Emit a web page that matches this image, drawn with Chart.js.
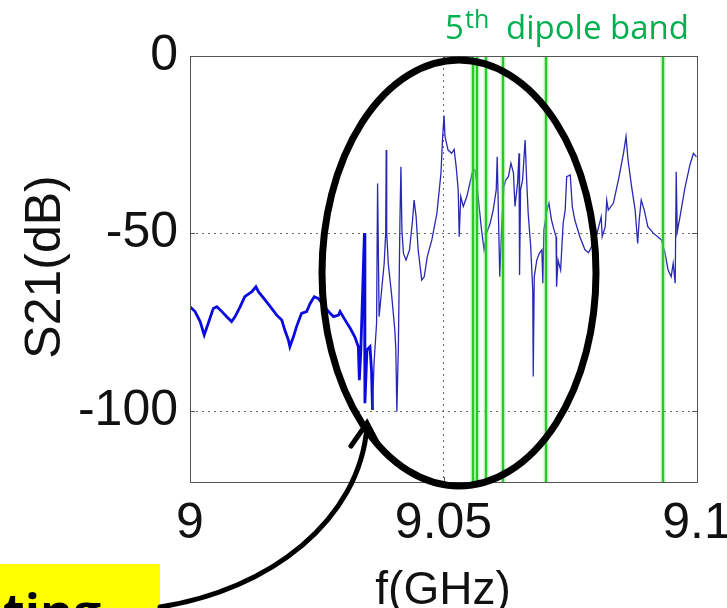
<!DOCTYPE html>
<html>
<head>
<meta charset="utf-8">
<script src="https://cdn.jsdelivr.net/npm/chart.js@4.4.1/dist/chart.umd.min.js"></script>
<style>
  html, body { margin: 0; padding: 0; background: #fff; }
</style>
</head>
<body>
<canvas id="myChart" width="727" height="608"></canvas>
<script>
// S21 trace (frequency in GHz, level in dB)
const freqGHz = [
  9.0000, 9.0010, 9.0020, 9.0028, 9.0036, 9.0046, 9.0053, 9.0063, 9.0072, 9.0082,
  9.0089, 9.0099, 9.0108, 9.0122, 9.0130, 9.0135, 9.0148, 9.0161, 9.0171, 9.0181,
  9.0187, 9.0194, 9.0197, 9.0204, 9.0210, 9.0220, 9.0230, 9.0237, 9.0245, 9.0253,
  9.0263, 9.0273, 9.0283, 9.0293, 9.0296, 9.0306, 9.0316, 9.0325, 9.0332, 9.0334,
  9.0337, 9.0344, 9.0345, 9.0349, 9.0355, 9.0358, 9.0360, 9.0363, 9.0368, 9.0370,
  9.0373, 9.0378, 9.0383, 9.0386, 9.0387, 9.0388, 9.0391, 9.0398, 9.0404, 9.0406,
  9.0408, 9.0411, 9.0414, 9.0416, 9.0418, 9.0421, 9.0426, 9.0433, 9.0439, 9.0442,
  9.0446, 9.0450, 9.0457, 9.0462, 9.0468, 9.0477, 9.0487, 9.0495, 9.0498, 9.0501,
  9.0503, 9.0509, 9.0516, 9.0521, 9.0525, 9.0529, 9.0531, 9.0534, 9.0539, 9.0546,
  9.0552, 9.0558, 9.0562, 9.0565, 9.0571, 9.0575, 9.0580, 9.0585, 9.0592, 9.0598,
  9.0604, 9.0606, 9.0609, 9.0611, 9.0615, 9.0619, 9.0623, 9.0628, 9.0633, 9.0638,
  9.0641, 9.0646, 9.0649, 9.0650, 9.0652, 9.0656, 9.0661, 9.0664, 9.0667, 9.0672,
  9.0676, 9.0677, 9.0679, 9.0684, 9.0689, 9.0694, 9.0696, 9.0698, 9.0704, 9.0708,
  9.0713, 9.0718, 9.0722, 9.0723, 9.0726, 9.0731, 9.0736, 9.0740, 9.0743, 9.0750,
  9.0754, 9.0759, 9.0769, 9.0779, 9.0786, 9.0795, 9.0802, 9.0811, 9.0813, 9.0819,
  9.0822, 9.0825, 9.0835, 9.0845, 9.0855, 9.0860, 9.0864, 9.0871, 9.0878, 9.0883,
  9.0886, 9.0890, 9.0896, 9.0903, 9.0914, 9.0930, 9.0937, 9.0943, 9.0949, 9.0953,
  9.0957, 9.0959, 9.0961, 9.0966, 9.0976, 9.0986, 9.0993, 9.0999
];
const s21dB = [
  -70.6, -72.0, -74.8, -78.6, -75.3, -71.1, -70.6, -72.0, -73.4, -74.8,
  -73.4, -70.6, -67.8, -66.4, -65.0, -66.4, -68.7, -71.1, -73.0, -74.4,
  -77.2, -80.0, -81.9, -79.1, -76.3, -72.5, -72.0, -69.7, -67.8, -68.3,
  -70.1, -72.0, -73.4, -73.0, -72.0, -74.4, -76.7, -79.1, -81.9, -91.3,
  -82.8, -49.9, -97.8, -82.8, -81.9, -88.5, -99.7, -86.5, -75.3, -35.9,
  -73.4, -65.9, -58.4, -49.9, -26.5, -49.9, -58.3, -67.8, -77.2, -82.8,
  -100.2, -81.9, -47.1, -31.2, -49.0, -55.6, -57.5, -54.6, -46.2, -40.6,
  -45.3, -54.6, -63.1, -62.2, -56.5, -51.8, -44.3, -33.0, -23.7, -16.8,
  -22.7, -26.5, -27.4, -26.3, -31.2, -37.7, -50.9, -39.6, -42.4, -39.6,
  -35.9, -32.1, -32.1, -34.9, -43.4, -49.0, -54.6, -49.9, -47.1, -43.4,
  -37.7, -28.4, -49.0, -62.2, -47.1, -36.8, -34.9, -34.0, -30.2, -33.0,
  -42.4, -35.9, -27.4, -61.7, -37.7, -34.9, -23.7, -34.9, -44.3, -53.7,
  -65.9, -90.3, -62.2, -57.5, -55.6, -54.6, -64.0, -49.0, -43.4, -41.5,
  -46.2, -49.0, -50.9, -65.0, -57.5, -60.3, -47.1, -43.4, -34.0, -33.5,
  -42.4, -46.2, -50.9, -54.6, -55.4, -52.8, -50.4, -45.3, -50.9, -48.1,
  -40.6, -43.4, -41.5, -34.9, -27.4, -22.7, -29.3, -36.8, -43.4, -52.8,
  -46.2, -40.6, -43.4, -48.1, -49.9, -51.8, -55.6, -60.3, -62.2, -58.4,
  -64.0, -32.6, -49.5, -45.7, -37.3, -30.7, -27.4, -28.4
];
// 5th dipole band frequencies (green markers), GHz
const bandLines = [9.0559, 9.0567, 9.0583, 9.0618, 9.0702, 9.0932];
const xTicks = [9, 9.05, 9.1];
const yTicks = [-100, -50, 0];

const tickFont = { family: "'Liberation Sans', Arial, sans-serif", size: 50 };

const decorations = {
  id: 'decorations',
  afterDatasetsDraw(chart) {
    const { ctx, chartArea: a, scales: { x } } = chart;
    ctx.save();
    bandLines.forEach(f => {
      const px = Math.round(x.getPixelForValue(f));
      ctx.strokeStyle = 'rgba(120, 230, 120, 0.45)';
      ctx.lineWidth = 5;
      ctx.beginPath(); ctx.moveTo(px, a.top); ctx.lineTo(px, a.bottom); ctx.stroke();
      ctx.strokeStyle = '#22cc22';
      ctx.lineWidth = 2.2;
      ctx.beginPath(); ctx.moveTo(px, a.top); ctx.lineTo(px, a.bottom); ctx.stroke();
    });
    ctx.restore();
  },
  afterDraw(chart) {
    const { ctx, chartArea: a, scales: { x, y } } = chart;
    ctx.save();

    // axes box + inward ticks
    ctx.strokeStyle = '#555';
    ctx.lineWidth = 1;
    ctx.strokeRect(a.left + 0.5, a.top + 0.5, a.right - a.left, a.bottom - a.top);
    ctx.beginPath();
    yTicks.forEach(v => {
      const py = Math.round(y.getPixelForValue(v)) + 0.5;
      ctx.moveTo(a.left, py); ctx.lineTo(a.left + 5, py);
      ctx.moveTo(a.right, py); ctx.lineTo(a.right - 5, py);
    });
    xTicks.forEach(v => {
      const px = Math.round(x.getPixelForValue(v)) + 0.5;
      ctx.moveTo(px, a.bottom); ctx.lineTo(px, a.bottom - 5);
      ctx.moveTo(px, a.top); ctx.lineTo(px, a.top + 5);
    });
    ctx.stroke();

    // axis titles
    ctx.fillStyle = '#111';
    ctx.font = "50px 'Liberation Sans', Arial, sans-serif";
    ctx.textAlign = 'center';
    ctx.textBaseline = 'middle';
    ctx.save();
    ctx.translate(46, 267);
    ctx.rotate(-Math.PI / 2);
    ctx.fillText('S21(dB)', 0, 0);
    ctx.restore();
    ctx.font = "46px 'Liberation Sans', Arial, sans-serif";
    ctx.textBaseline = 'alphabetic';
    ctx.fillText('f(GHz)', 443, 604);

    // "5th dipole band" label
    ctx.fillStyle = '#00b050';
    ctx.textAlign = 'left';
    ctx.font = "33px 'Open Sans', sans-serif";
    ctx.fillText('5', 445, 39);
    ctx.font = "25px 'Open Sans', sans-serif";
    ctx.fillText('th', 465, 28);
    ctx.font = "33px 'Open Sans', sans-serif";
    ctx.fillText('dipole band', 506, 39);

    // yellow call-out box (cut off by the bottom edge)
    ctx.fillStyle = '#ffff00';
    ctx.fillRect(0, 564, 160, 44);
    ctx.fillStyle = '#000';
    ctx.font = "bold 50px 'Open Sans', sans-serif";
    const aw = ctx.measureText('a').width;
    ctx.fillText('ating', 3 - aw, 630);

    // ellipse around the band
    ctx.strokeStyle = '#000';
    ctx.lineWidth = 7;
    ctx.beginPath();
    ctx.ellipse(459, 273, 137, 213, 0, 0, Math.PI * 2);
    ctx.stroke();

    // curved arrow
    ctx.lineWidth = 5;
    ctx.lineCap = 'round';
    ctx.beginPath();
    ctx.moveTo(160, 607);
    ctx.bezierCurveTo(270, 590, 360, 520, 367, 426);
    ctx.stroke();
    ctx.lineJoin = 'miter';
    ctx.beginPath();
    ctx.moveTo(351, 446);
    ctx.lineTo(367, 423);
    ctx.lineTo(379, 446);
    ctx.stroke();

    ctx.restore();
  }
};

const ctx = document.getElementById('myChart').getContext('2d');
const myChart = new Chart(ctx, {
  type: 'line',
  data: {
    datasets: [{
      label: 'S21',
      data: freqGHz.map((f, i) => ({ x: f, y: s21dB[i] })),
      borderColor: '#2828b4',
      borderWidth: 1.3,
      pointRadius: 0,
      tension: 0,
      segment: {
        borderWidth: c => c.p0.parsed.x < 9.036 ? 2.8 : 1.3,
        borderColor: c => c.p0.parsed.x < 9.036 ? '#0a0ae0' : '#2828b4'
      }
    }]
  },
  options: {
    responsive: false,
    animation: false,
    devicePixelRatio: 1,
    layout: { padding: { top: 56, right: 30, bottom: 0, left: 0 } },
    plugins: { legend: { display: false }, tooltip: { enabled: false } },
    scales: {
      x: {
        type: 'linear',
        min: 9,
        max: 9.1,
        afterBuildTicks: s => { s.ticks = xTicks.map(v => ({ value: v })); },
        afterFit: s => { s.height = 126; s.paddingLeft = 0; s.paddingRight = 0; },
        ticks: {
          font: tickFont,
          color: '#111',
          padding: 12,
          maxRotation: 0,
          autoSkip: false,
          callback: v => String(v)
        },
        grid: { color: '#666', lineWidth: 1, drawTicks: false },
        border: { display: false, dash: [2, 4] }
      },
      y: {
        min: -120,
        max: 0,
        afterBuildTicks: s => { s.ticks = yTicks.map(v => ({ value: v })); },
        afterFit: s => { s.width = 190; s.paddingTop = 0; s.paddingBottom = 0; },
        ticks: {
          font: tickFont,
          color: '#111',
          padding: 12,
          callback: v => String(v)
        },
        grid: { color: '#666', lineWidth: 1, drawTicks: false },
        border: { display: false, dash: [2, 4] }
      }
    }
  },
  plugins: [decorations]
});
</script>
</body>
</html>
